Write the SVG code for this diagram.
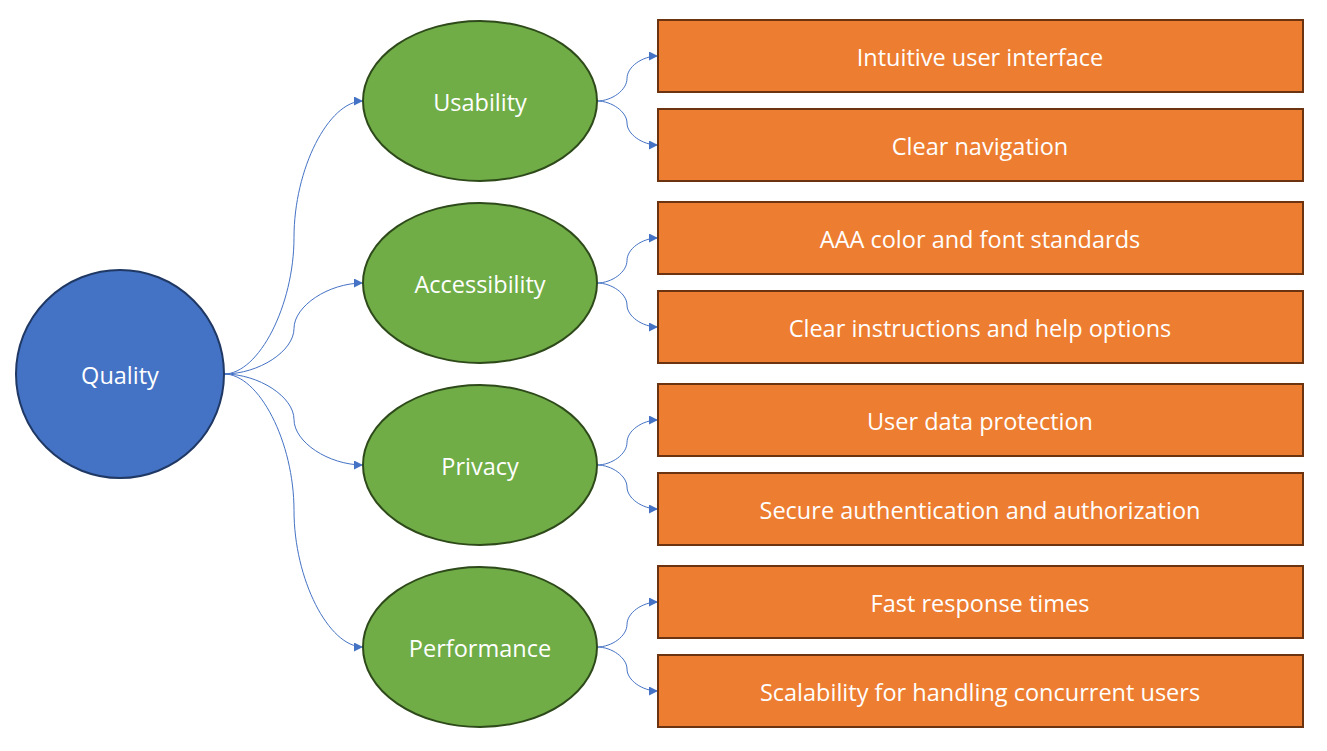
<svg xmlns="http://www.w3.org/2000/svg" width="1327" height="751" viewBox="0 0 1327 751">
<style>
.t{font-family:"Open Sans","Noto Sans","Liberation Sans",sans-serif;font-size:23.5px;fill:#fff;text-anchor:middle;dominant-baseline:central}
.root{fill:#4472C4;stroke:#1F3864;stroke-width:2}
.mid{fill:#70AD47;stroke:#2E4A1A;stroke-width:2}
.leaf{fill:#ED7D31;stroke:#6B3310;stroke-width:2}
.c{fill:none;stroke:#4472C4;stroke-width:1;marker-end:url(#a)}
</style>
<defs>
<marker id="a" viewBox="0 0 10 10" refX="10" refY="5" markerWidth="9" markerHeight="9" markerUnits="userSpaceOnUse" orient="auto">
<path d="M0,0L10,5L0,10z" fill="#4472C4"/>
</marker>
</defs>
<rect width="1327" height="751" fill="#fff"/>
<g id="connectors">
<path class="c" d="M224,374 C259,374 294,305 294,237.5 C294,169 328.5,101 363,101"/>
<path class="c" d="M224,374 C259,374 294,351 294,328.5 C294,306 328.5,283 363,283"/>
<path class="c" d="M224,374 C259,374 294,397 294,419.5 C294,442 328.5,465 363,465"/>
<path class="c" d="M224,374 C259,374 294,442 294,510.5 C294,579 328.5,647 363,647"/>
<path class="c" d="M597,101 C612,101 627,90 627,78.5 C627,67 642,56 658,56"/>
<path class="c" d="M597,101 C612,101 627,112 627,123 C627,134 642,145 658,145"/>
<path class="c" d="M597,283 C612,283 627,272 627,260.5 C627,249 642,238 658,238"/>
<path class="c" d="M597,283 C612,283 627,294 627,305 C627,316 642,327 658,327"/>
<path class="c" d="M597,465 C612,465 627,454 627,442.5 C627,431 642,420 658,420"/>
<path class="c" d="M597,465 C612,465 627,476 627,487 C627,498 642,509 658,509"/>
<path class="c" d="M597,647 C612,647 627,636 627,624.5 C627,613 642,602 658,602"/>
<path class="c" d="M597,647 C612,647 627,658 627,669 C627,680 642,691 658,691"/>
</g>
<g id="quality"><circle class="root" cx="120" cy="374" r="104"/><text class="t" x="120" y="375">Quality</text></g>
<g id="usability"><ellipse class="mid" cx="480" cy="101" rx="117" ry="80"/><text class="t" x="480" y="102">Usability</text></g>
<g id="accessibility"><ellipse class="mid" cx="480" cy="283" rx="117" ry="80"/><text class="t" x="480" y="284">Accessibility</text></g>
<g id="privacy"><ellipse class="mid" cx="480" cy="465" rx="117" ry="80"/><text class="t" x="480" y="466">Privacy</text></g>
<g id="performance"><ellipse class="mid" cx="480" cy="647" rx="117" ry="80"/><text class="t" x="480" y="648">Performance</text></g>
<g id="leaf1"><rect class="leaf" x="658" y="20" width="645" height="72"/><text class="t" x="980" y="57">Intuitive user interface</text></g>
<g id="leaf2"><rect class="leaf" x="658" y="109" width="645" height="72"/><text class="t" x="980" y="146">Clear navigation</text></g>
<g id="leaf3"><rect class="leaf" x="658" y="202" width="645" height="72"/><text class="t" x="980" y="239">AAA color and font standards</text></g>
<g id="leaf4"><rect class="leaf" x="658" y="291" width="645" height="72"/><text class="t" x="980" y="328">Clear instructions and help options</text></g>
<g id="leaf5"><rect class="leaf" x="658" y="384" width="645" height="72"/><text class="t" x="980" y="421">User data protection</text></g>
<g id="leaf6"><rect class="leaf" x="658" y="473" width="645" height="72"/><text class="t" x="980" y="510">Secure authentication and authorization</text></g>
<g id="leaf7"><rect class="leaf" x="658" y="566" width="645" height="72"/><text class="t" x="980" y="603">Fast response times</text></g>
<g id="leaf8"><rect class="leaf" x="658" y="655" width="645" height="72"/><text class="t" x="980" y="692">Scalability for handling concurrent users</text></g>
</svg>
